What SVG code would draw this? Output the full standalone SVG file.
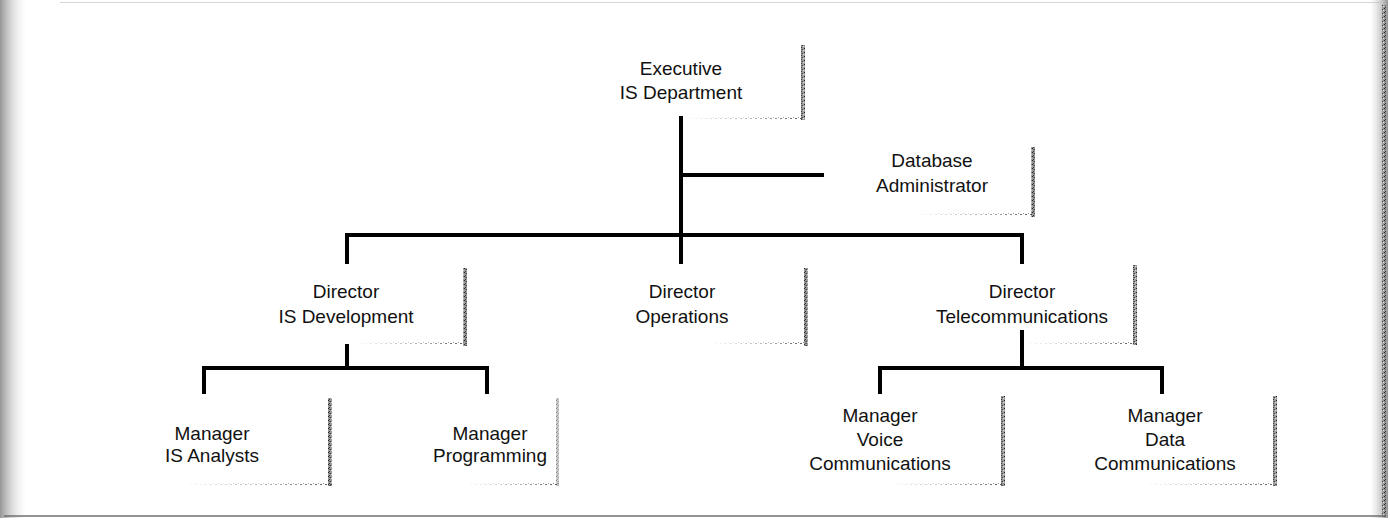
<svg xmlns="http://www.w3.org/2000/svg" width="1390" height="522" viewBox="0 0 1390 522">
<defs>
<pattern id="speck" width="4" height="4" patternUnits="userSpaceOnUse">
<rect width="4" height="4" fill="#9a9a9a"/>
<rect x="0" y="0" width="1" height="1" fill="#222"/>
<rect x="2" y="1" width="1" height="1" fill="#444"/>
<rect x="1" y="3" width="1" height="1" fill="#333"/>
<rect x="3" y="2" width="1" height="1" fill="#ddd"/>
<rect x="1" y="1" width="1" height="1" fill="#666"/>
</pattern>
<pattern id="dots" width="5" height="3" patternUnits="userSpaceOnUse">
<rect x="0" y="1" width="2" height="1" fill="#555"/>
<rect x="3" y="0" width="1" height="1" fill="#888"/>
</pattern>
<linearGradient id="fadeL" x1="0" y1="0" x2="1" y2="0">
<stop offset="0" stop-color="#fff" stop-opacity="0.95"/>
<stop offset="0.6" stop-color="#fff" stop-opacity="0.5"/>
<stop offset="1" stop-color="#fff" stop-opacity="0"/>
</linearGradient>
<linearGradient id="edgeL" x1="0" y1="0" x2="1" y2="0">
<stop offset="0" stop-color="#8a8a8a" stop-opacity="0.9"/>
<stop offset="0.4" stop-color="#b0b0b0" stop-opacity="0.55"/>
<stop offset="1" stop-color="#ddd" stop-opacity="0"/>
</linearGradient>
<linearGradient id="edgeR" x1="0" y1="0" x2="1" y2="0">
<stop offset="0" stop-color="#ccc" stop-opacity="0"/>
<stop offset="1" stop-color="#888" stop-opacity="0.9"/>
</linearGradient>
</defs>
<style>
text{font-family:"Liberation Sans",Arial,sans-serif;font-size:19px;fill:#111;text-anchor:middle}
.c{stroke:#000;stroke-width:4;fill:none;stroke-linecap:square}
.sr{fill:url(#speck)}
.sb{fill:url(#dots)}
.sf{fill:url(#fadeL)}
</style>
<rect width="1390" height="522" fill="#fff"/>
<g id="page">
<rect x="0" y="0" width="26" height="518" fill="url(#edgeL)"/>
<rect x="1370" y="0" width="18" height="518" fill="url(#edgeR)"/>
<rect x="1382" y="5" width="4" height="512" class="sr"/>
<rect x="4" y="515" width="1382" height="2" fill="#666" opacity="0.7"/>
<rect x="60" y="2" width="1320" height="1" fill="#bbb" opacity="0.6"/>
</g>
<g id="connectors">
<path class="c" d="M681 118 V262"/>
<path class="c" d="M681 175 H822"/>
<path class="c" d="M347 262 V235 H1022 V262"/>
<path class="c" d="M347 346 V368"/>
<path class="c" d="M204 392 V368 H487 V392"/>
<path class="c" d="M1022 332 V368"/>
<path class="c" d="M880 392 V368 H1162 V392"/>
</g>
<g id="n-exec">
<text x="681" y="75">Executive</text>
<text x="681" y="99">IS Department</text>
<rect x="801" y="45" width="4" height="75" class="sr"/>
<rect x="690" y="117" width="115" height="3" class="sb"/>
<rect x="690" y="117" width="115" height="3" class="sf"/>
</g>
<g id="n-dba">
<text x="932" y="167">Database</text>
<text x="932" y="192">Administrator</text>
<rect x="1031" y="147" width="4" height="70" class="sr"/>
<rect x="920" y="213" width="115" height="3" class="sb"/>
<rect x="920" y="213" width="115" height="3" class="sf"/>
</g>
<g id="n-isdev">
<text x="346" y="298">Director</text>
<text x="346" y="323">IS Development</text>
<rect x="463" y="268" width="4" height="78" class="sr"/>
<rect x="360" y="342" width="107" height="3" class="sb"/>
<rect x="360" y="342" width="107" height="3" class="sf"/>
</g>
<g id="n-ops">
<text x="682" y="298">Director</text>
<text x="682" y="323">Operations</text>
<rect x="804" y="268" width="4" height="78" class="sr"/>
<rect x="715" y="342" width="93" height="3" class="sb"/>
<rect x="715" y="342" width="93" height="3" class="sf"/>
</g>
<g id="n-tel">
<text x="1022" y="298">Director</text>
<text x="1022" y="323">Telecommunications</text>
<rect x="1133" y="265" width="4" height="80" class="sr"/>
<rect x="1030" y="342" width="107" height="3" class="sb"/>
<rect x="1030" y="342" width="107" height="3" class="sf"/>
</g>
<g id="n-isan">
<text x="212" y="440">Manager</text>
<text x="212" y="462">IS Analysts</text>
<rect x="328" y="398" width="4" height="88" class="sr"/>
<rect x="190" y="483" width="142" height="3" class="sb"/>
<rect x="190" y="483" width="142" height="3" class="sf"/>
</g>
<g id="n-prog">
<text x="490" y="440">Manager</text>
<text x="490" y="462">Programming</text>
<rect x="556" y="398" width="3" height="88" class="sr" opacity="0.5"/>
<rect x="470" y="483" width="89" height="3" class="sb"/>
<rect x="470" y="483" width="89" height="3" class="sf"/>
</g>
<g id="n-voice">
<text x="880" y="422">Manager</text>
<text x="880" y="446">Voice</text>
<text x="880" y="470">Communications</text>
<rect x="1001" y="396" width="4" height="90" class="sr"/>
<rect x="895" y="483" width="110" height="3" class="sb"/>
<rect x="895" y="483" width="110" height="3" class="sf"/>
</g>
<g id="n-data">
<text x="1165" y="422">Manager</text>
<text x="1165" y="446">Data</text>
<text x="1165" y="470">Communications</text>
<rect x="1273" y="396" width="4" height="90" class="sr"/>
<rect x="1150" y="483" width="127" height="3" class="sb"/>
<rect x="1150" y="483" width="127" height="3" class="sf"/>
</g>
</svg>
